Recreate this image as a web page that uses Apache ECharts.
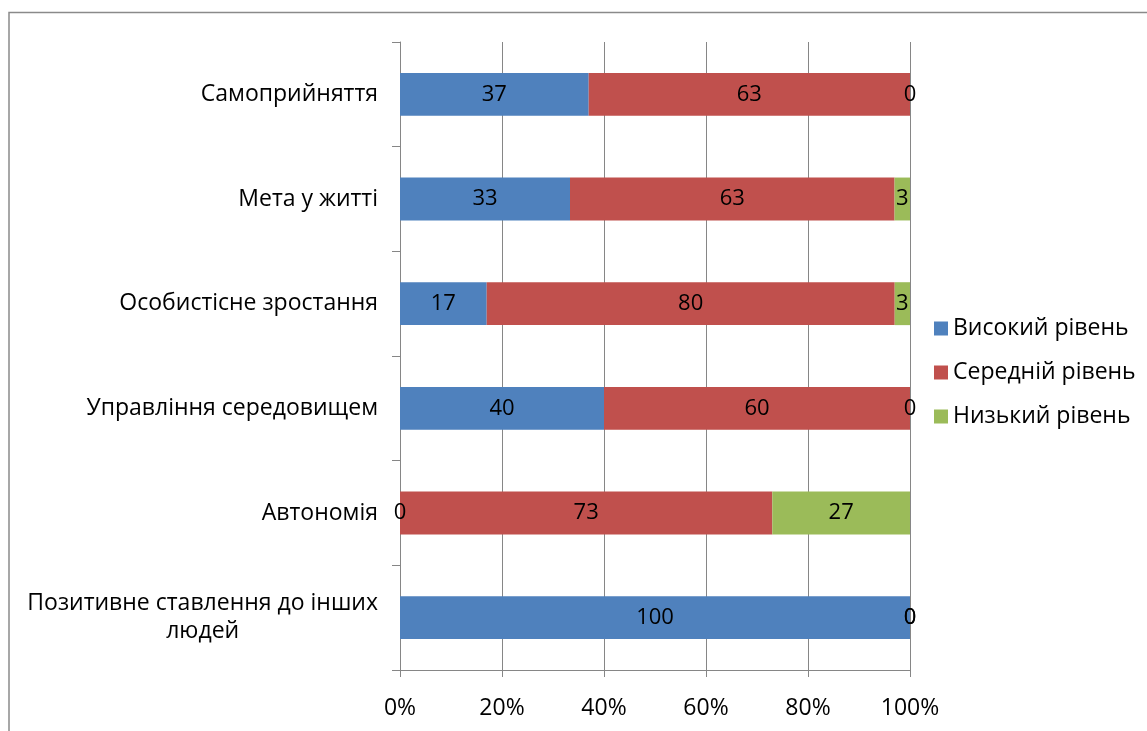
<!DOCTYPE html>
<html>
<head>
<meta charset="utf-8">
<script src="https://cdn.jsdelivr.net/npm/echarts@6/dist/echarts.min.js"></script>
<style>
  html, body { margin: 0; padding: 0; background: #fff; }
  #chart { width: 1147px; height: 731px; }
</style>
</head>
<body>
<div id="chart"></div>
<script>
// categories listed top to bottom
const categories = [
  'Самоприйняття',
  'Мета у житті',
  'Особистісне зростання',
  'Управління середовищем',
  'Автономія',
  'Позитивне ставлення до інших людей'
]
const seriesNames = ['Високий рівень', 'Середній рівень', 'Низький рівень']
const highLevel = [37, 33, 17, 40, 0, 100]
const midLevel = [63, 63, 80, 60, 73, 0]
const lowLevel = [0, 3, 3, 0, 27, 0]
const xTicks = ['0%', '20%', '40%', '60%', '80%', '100%']

const COLORS = ['#4F81BD', '#C0504D', '#9BBB59']
const FONT = "'Open Sans', 'Noto Sans', sans-serif"
const FS = 23
const AXIS_GRAY = '#868686'

const totals = categories.map((_, i) => highLevel[i] + midLevel[i] + lowLevel[i])
const pct = (arr) => arr.map((v, i) => (v / totals[i]) * 100)

function makeSeries(name, raw, color) {
  return {
    name,
    type: 'bar',
    stack: 'all',
    barCategoryGap: '59%',
    data: pct(raw),
    itemStyle: { color },
    label: {
      show: true,
      position: 'inside',
      color: '#000',
      fontFamily: FONT,
      fontSize: 22,
      formatter: (p) => String(raw[p.dataIndex])
    }
  }
}

const chart = echarts.init(document.getElementById('chart'))
chart.setOption({
  animation: false,
  textStyle: { fontFamily: FONT },
  graphic: [{
    type: 'rect',
    shape: { x: 9, y: 12.5, width: 1300, height: 900 },
    style: { fill: 'none', stroke: '#8a8a8a', lineWidth: 1.5 },
    silent: true
  }],
  grid: { left: 400, right: 237, top: 42, bottom: 61 },
  legend: {
    orient: 'vertical',
    left: 929,
    top: 312,
    itemWidth: 14,
    itemHeight: 14,
    itemGap: 21,
    icon: 'rect',
    textStyle: { fontFamily: FONT, fontSize: FS, color: '#000' },
    data: seriesNames
  },
  xAxis: {
    type: 'value',
    min: 0,
    max: 100,
    interval: 20,
    axisLine: { show: true, lineStyle: { color: AXIS_GRAY } },
    axisTick: { show: true, length: 7, lineStyle: { color: AXIS_GRAY } },
    splitLine: { show: true, lineStyle: { color: AXIS_GRAY, width: 1 } },
    axisLabel: {
      margin: 27,
      color: '#000',
      fontSize: FS,
      fontFamily: FONT,
      formatter: (v) => xTicks[Math.round(v / 20)]
    }
  },
  yAxis: {
    type: 'category',
    inverse: true,
    data: categories,
    axisLine: { show: true, lineStyle: { color: AXIS_GRAY } },
    axisTick: { show: true, length: 8, lineStyle: { color: AXIS_GRAY } },
    axisLabel: {
      margin: 22,
      color: '#000',
      fontSize: FS,
      fontFamily: FONT,
      formatter: (v) => v === categories[5]
        ? '{c|Позитивне ставлення до інших}\n{c|людей}'
        : v,
      rich: { c: { align: 'center', fontSize: FS, fontFamily: FONT, color: '#000', lineHeight: 28 } }
    }
  },
  series: [
    makeSeries(seriesNames[0], highLevel, COLORS[0]),
    makeSeries(seriesNames[1], midLevel, COLORS[1]),
    makeSeries(seriesNames[2], lowLevel, COLORS[2])
  ]
})
</script>
</body>
</html>
